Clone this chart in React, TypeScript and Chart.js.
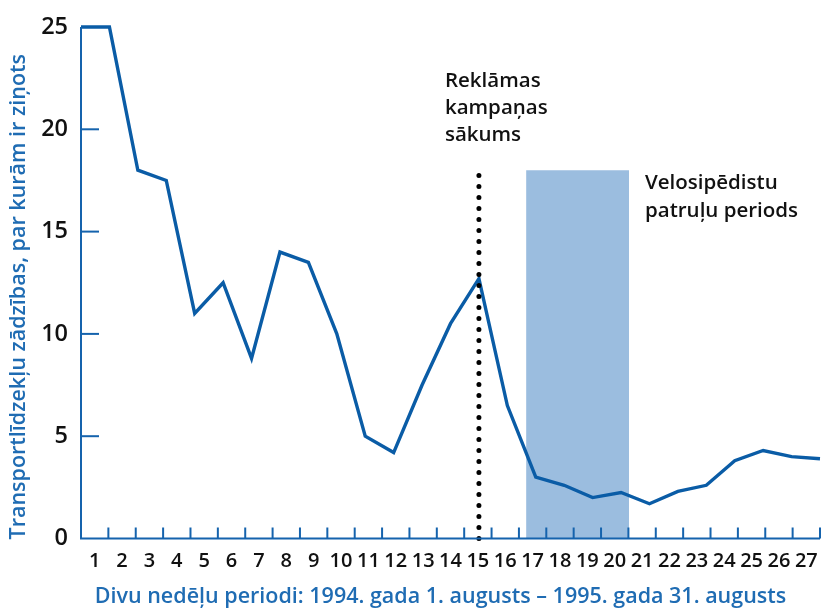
import React, { useEffect, useRef } from "react";
import { Chart, registerables } from "chart.js";

Chart.register(...registerables);

// ---- data ----
const periods = ["1","2","3","4","5","6","7","8","9","10","11","12","13","14","15","16","17","18","19","20","21","22","23","24","25","26","27"];
const periodNumbers = [1,2,3,4,5,6,7,8,9,10,11,12,13,14,15,16,17,18,19,20,21,22,23,24,25,26,27];
const thefts = [25, 25, 18, 17.5, 11, 12.5, 8.8, 14, 13.5, 10, 5, 4.2, 7.5, 10.5, 12.7, 6.5, 3.0, 2.6, 2.0, 2.25, 1.7, 2.3, 2.6, 3.8, 4.3, 4.0, 3.9];
const campaignStart = 15;
const patrolStart = 16.66;
const patrolEnd = 20.28;
const markerTop = 18;
const yTicks = [0, 5, 10, 15, 20, 25];

const yTitle = "Transportlīdzekļu zādzības, par kurām ir ziņots";
const xTitle = "Divu nedēļu periodi: 1994. gada 1. augusts – 1995. gada 31. augusts";
const campaignLabel = ["Reklāmas", "kampaņas", "sākums"];
const patrolLabel = ["Velosipēdistu", "patruļu periods"];

const FONT = "'Open Sans', sans-serif";
const LINE_BLUE = "#0a5ca6";
const AXIS_BLUE = "#1563ad";
const TITLE_BLUE = "#1f6cb3";
const BAND = "#9bbddf";

const overlay = {
  id: "overlay",
  afterDatasetsDraw(chart: any) {
    const ctx = chart.ctx;
    const xs = chart.scales.x;
    const xc = chart.scales.xc;
    const ys = chart.scales.y;
    const area = chart.chartArea;
    ctx.save();
    ctx.strokeStyle = AXIS_BLUE;
    ctx.lineWidth = 2;
    // axis lines
    ctx.beginPath();
    ctx.moveTo(area.left, area.top);
    ctx.lineTo(area.left, area.bottom);
    ctx.lineTo(area.right, area.bottom);
    ctx.stroke();
    // y tick marks (inward)
    yTicks.forEach((v) => {
      if (v === 0 || v === 25) return;
      const py = ys.getPixelForValue(v);
      ctx.beginPath();
      ctx.moveTo(area.left, py);
      ctx.lineTo(area.left + 18, py);
      ctx.stroke();
    });
    // x tick marks at category boundaries (inward)
    const n = periods.length;
    for (let i = 1; i <= n; i++) {
      const px = xc.left + (i * (xc.right - xc.left)) / n;
      ctx.beginPath();
      ctx.moveTo(px, area.bottom);
      ctx.lineTo(px, area.bottom - 11);
      ctx.stroke();
    }
    // annotations
    ctx.fillStyle = "#111";
    ctx.textBaseline = "alphabetic";
    ctx.textAlign = "left";
    ctx.font = `600 20.5px ${FONT}`;
    const cx = xs.getPixelForValue(campaignStart) - 34;
    const cTop = ys.getPixelForValue(markerTop) - 83;
    campaignLabel.forEach((t, i) => ctx.fillText(t, cx, cTop + i * 27));
    const px = xs.getPixelForValue(patrolEnd) + 16;
    const pTop = ys.getPixelForValue(markerTop) + 19;
    patrolLabel.forEach((t, i) => ctx.fillText(t, px, pTop + i * 28));
    // axis titles
    ctx.fillStyle = TITLE_BLUE;
    ctx.font = `600 21.5px ${FONT}`;
    ctx.textAlign = "center";
    ctx.textBaseline = "middle";
    ctx.fillText(xTitle, (area.left + area.right) / 2 - 10, 597);
    ctx.save();
    ctx.translate(19, (area.top + area.bottom) / 2 + 14);
    ctx.rotate(-Math.PI / 2);
    ctx.fillText(yTitle, 0, 0);
    ctx.restore();
    ctx.restore();
  },
};

export default function App() {
  const ref = useRef<HTMLCanvasElement | null>(null);
  useEffect(() => {
    if (!ref.current) return;
    const chart = new Chart(ref.current, {
      type: "line",
      data: {
        datasets: [
          {
            label: "dotted",
            data: [
              { x: campaignStart, y: 0 },
              { x: campaignStart, y: markerTop },
            ],
            borderColor: "#000",
            borderWidth: 5,
            borderDash: [0, 11],
            borderCapStyle: "round",
            pointRadius: 0,
            fill: false,
            order: 0,
          },
          {
            label: "thefts",
            data: periodNumbers.map((p, i) => ({ x: p, y: thefts[i] })),
            borderColor: LINE_BLUE,
            borderWidth: 3.4,
            pointRadius: 0,
            tension: 0,
            fill: false,
            order: 1,
          },
          {
            label: "patrol",
            data: [
              { x: patrolStart, y: markerTop },
              { x: patrolEnd, y: markerTop },
            ],
            borderWidth: 0,
            borderColor: "rgba(0,0,0,0)",
            backgroundColor: BAND,
            pointRadius: 0,
            fill: "origin",
            order: 2,
          },
        ],
      },
      options: {
        animation: false,
        responsive: false,
        devicePixelRatio: 1,
        layout: { padding: { top: 27, right: 3, left: 0, bottom: 0 } },
        plugins: { legend: { display: false }, tooltip: { enabled: false } },
        clip: false,
        scales: {
          x: {
            type: "linear",
            min: 1,
            max: 27,
            display: false,
          },
          xc: {
            type: "category",
            labels: periods,
            position: "bottom",
            offset: true,
            grid: { display: false, drawTicks: false },
            border: { display: false },
            ticks: {
              autoSkip: false,
              maxRotation: 0,
              color: "#111",
              padding: 11,
              font: { family: FONT, size: 20, weight: "600" },
            },
            afterFit: (s: any) => {
              s.height = 72.5;
              s.paddingLeft = 0;
              s.paddingRight = 0;
            },
          },
          y: {
            type: "linear",
            min: 0,
            max: 25,
            grid: { display: false, drawTicks: false },
            border: { display: false },
            ticks: {
              stepSize: 5,
              color: "#111",
              padding: 13,
              font: { family: FONT, size: 23.5, weight: "600" },
            },
            afterFit: (s: any) => {
              s.width = 81;
              s.paddingTop = 0;
              s.paddingBottom = 0;
            },
          },
        },
      },
      plugins: [overlay],
    } as any);
    return () => chart.destroy();
  }, []);
  return (
    <div style={{ position: "fixed", left: 0, top: 0, width: 823, height: 611, background: "#fff" }}>
      <canvas ref={ref} width={823} height={611} style={{ width: 823, height: 611, display: "block" }} />
    </div>
  );
}
